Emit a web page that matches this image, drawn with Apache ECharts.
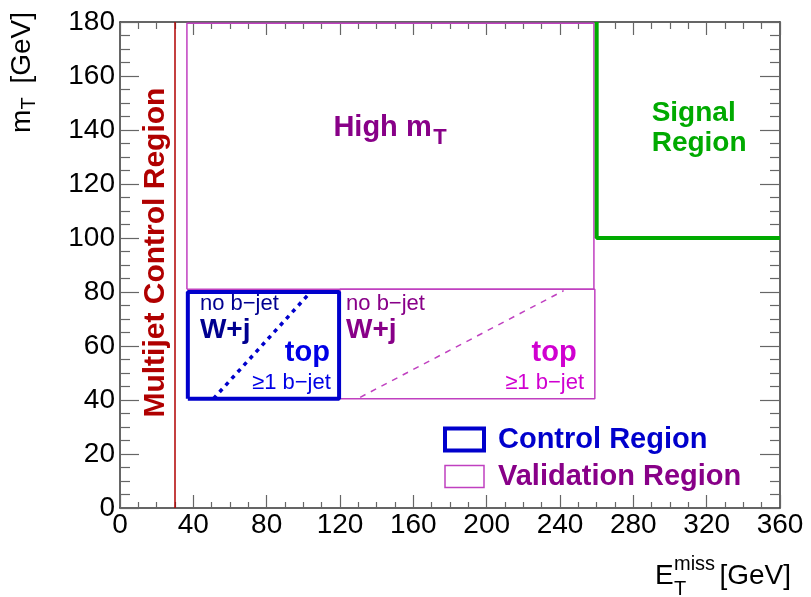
<!DOCTYPE html>
<html><head><meta charset="utf-8">
<script src="https://cdn.jsdelivr.net/npm/echarts@6/dist/echarts.min.js"></script>
<style>html,body{margin:0;padding:0;background:#fff}#c{width:811px;height:597px}</style>
</head><body><div id="c"></div>
<script>
// ---- data (GeV) ----
const xTickLabels = [0, 40, 80, 120, 160, 200, 240, 280, 320, 360];
const yTickLabels = [0, 20, 40, 60, 80, 100, 120, 140, 160, 180];
const multijetCut = [[30, 0], [30, 180]];
const signalBoundary = [[260, 180], [260, 100], [360, 100]];
const highMtVR = [[36.5, 81], [36.5, 179.5], [258.5, 179.5], [258.5, 81], [36.5, 81]];
const lowMtVR = [[120, 40.5], [120, 81], [259, 81], [259, 40.5], [120, 40.5]];
const controlCR = [[37, 40.5], [37, 80], [119.5, 80], [119.5, 40.5], [37, 40.5]];
const crDiagonal = [[51, 40.5], [104, 80]];
const vrDiagonal = [[131, 41], [242, 80.5]];

const FONT = "'Liberation Sans', Arial, Helvetica, sans-serif";
const C_RED = '#b00000', C_BLUE = '#0000cc', C_NAVY = '#000090', C_BRIGHTBLUE = '#0000e6',
      C_PURPLE = '#880088', C_MAGENTA = '#d000d0', C_VRLINE = '#c040c0', C_GREEN = '#00aa00';

function ann(x, y, text, color, size, bold, align, extra) {
  return {
    value: [x, y],
    label: Object.assign({
      show: true, formatter: text, position: [0, 0], align: align, verticalAlign: 'middle',
      color: color, fontSize: size, fontWeight: bold ? 'bold' : 'normal', fontFamily: FONT, opacity: 1
    }, extra || {})
  };
}

const annotations = [
  ann(19.4, 94.6, 'Multijet Control Region', C_RED, 30, true, 'center', {rotate: 90}),
  ann(116.4, 140.8, 'High m', C_PURPLE, 29, true, 'left'),
  ann(170.9, 137.0, 'T', C_PURPLE, 22, true, 'left'),
  ann(290, 140.6, 'Signal\nRegion', C_GREEN, 28, true, 'left', {lineHeight: 30}),
  ann(43.6, 75.6, 'no b\u2212jet', C_NAVY, 22, false, 'left'),
  ann(43.6, 65.8, 'W+j', C_NAVY, 28, true, 'left'),
  ann(114.5, 57.4, 'top', C_BRIGHTBLUE, 29, true, 'right'),
  ann(115, 46.3, '\u22651 b\u2212jet', C_BRIGHTBLUE, 22, false, 'right'),
  ann(123.3, 75.6, 'no b\u2212jet', C_PURPLE, 22, false, 'left'),
  ann(123.3, 65.8, 'W+j', C_PURPLE, 28, true, 'left'),
  ann(249.1, 57.4, 'top', C_MAGENTA, 29, true, 'right'),
  ann(253.1, 46.3, '\u22651 b\u2212jet', C_MAGENTA, 22, false, 'right')
];

function lineSeries(name, data, color, width, type, z) {
  return {
    name: name, type: 'line', data: data, symbol: 'none', silent: true, clip: false,
    lineStyle: {color: color, width: width, type: type || 'solid', opacity: 1}, z: z || 2, animation: false
  };
}

const axisLineStyle = {color: '#333', width: 1.5};
const tickStyle = {color: '#666', width: 1.2};

const chart = echarts.init(document.getElementById('c'));
chart.setOption({
  backgroundColor: '#fff',
  animation: false,
  grid: {left: 120, top: 22, width: 660, height: 486, containLabel: false},
  xAxis: [{
    type: 'value', min: xTickLabels[0], max: xTickLabels[xTickLabels.length - 1],
    interval: xTickLabels[1] - xTickLabels[0], position: 'bottom',
    axisLine: {show: true, onZero: false, lineStyle: axisLineStyle},
    axisTick: {show: true, inside: true, length: 13, lineStyle: tickStyle},
    minorTick: {show: true, splitNumber: 4, length: 6, lineStyle: tickStyle},
    axisLabel: {fontSize: 28, color: '#000', fontFamily: FONT, margin: 3},
    splitLine: {show: false}
  }, {
    type: 'value', min: xTickLabels[0], max: xTickLabels[xTickLabels.length - 1],
    interval: xTickLabels[1] - xTickLabels[0], position: 'top',
    axisLine: {show: true, onZero: false, lineStyle: axisLineStyle},
    axisTick: {show: true, inside: true, length: 13, lineStyle: tickStyle},
    minorTick: {show: true, splitNumber: 4, length: 7, lineStyle: tickStyle},
    axisLabel: {show: false}, splitLine: {show: false}
  }],
  yAxis: [{
    type: 'value', min: yTickLabels[0], max: yTickLabels[yTickLabels.length - 1],
    interval: yTickLabels[1] - yTickLabels[0], position: 'left',
    axisLine: {show: true, onZero: false, lineStyle: axisLineStyle},
    axisTick: {show: true, inside: true, length: 19, lineStyle: tickStyle},
    minorTick: {show: true, splitNumber: 4, length: 10, lineStyle: tickStyle},
    axisLabel: {fontSize: 28, color: '#000', fontFamily: FONT, margin: 5},
    splitLine: {show: false}
  }, {
    type: 'value', min: yTickLabels[0], max: yTickLabels[yTickLabels.length - 1],
    interval: yTickLabels[1] - yTickLabels[0], position: 'right',
    axisLine: {show: true, onZero: false, lineStyle: axisLineStyle},
    axisTick: {show: true, inside: true, length: 20, lineStyle: tickStyle},
    minorTick: {show: true, splitNumber: 4, length: 10, lineStyle: tickStyle},
    axisLabel: {show: false}, splitLine: {show: false}
  }],
  legend: {
    orient: 'vertical', left: 443, top: 425, padding: 0, itemWidth: 39, itemHeight: 22, itemGap: 8,
    selectedMode: false,
    textStyle: {fontSize: 29, fontWeight: 'bold', fontFamily: FONT, padding: [0, 0, 0, 9]},
    data: [
      {name: 'Control Region', icon: 'rect',
       itemStyle: {color: 'rgba(0,0,0,0)', borderColor: C_BLUE, borderWidth: 4},
       textStyle: {color: C_BLUE}},
      {name: 'Validation Region', icon: 'rect',
       itemStyle: {color: 'rgba(0,0,0,0)', borderColor: C_VRLINE, borderWidth: 1.5},
       textStyle: {color: C_PURPLE}}
    ]
  },
  graphic: [
    {type: 'group', x: 32, y: 133, rotation: Math.PI / 2, children: [
      {type: 'text', x: 0, y: -10, style: {text: 'm', fontSize: 28, fontFamily: FONT, fill: '#000', align: 'left', verticalAlign: 'middle'}},
      {type: 'text', x: 23.5, y: -3, style: {text: 'T', fontSize: 20, fontFamily: FONT, fill: '#000', align: 'left', verticalAlign: 'middle'}},
      {type: 'text', x: 121, y: -10, style: {text: '[GeV]', fontSize: 28, fontFamily: FONT, fill: '#000', align: 'right', verticalAlign: 'middle'}}
    ]},
    {type: 'text', x: 655, y: 576, style: {text: 'E', fontSize: 28, fontFamily: FONT, fill: '#000', align: 'left', verticalAlign: 'middle'}},
    {type: 'text', x: 674, y: 564, style: {text: 'miss', fontSize: 20, fontFamily: FONT, fill: '#000', align: 'left', verticalAlign: 'middle'}},
    {type: 'text', x: 674, y: 589, style: {text: 'T', fontSize: 20, fontFamily: FONT, fill: '#000', align: 'left', verticalAlign: 'middle'}},
    {type: 'text', x: 791, y: 576, style: {text: '[GeV]', fontSize: 28, fontFamily: FONT, fill: '#000', align: 'right', verticalAlign: 'middle'}}
  ],
  series: [
    lineSeries('Multijet', multijetCut, C_RED, 1.5, 'solid', 2),
    lineSeries('Validation Region', highMtVR, C_VRLINE, 1.5, 'solid', 3),
    lineSeries('Validation Region', lowMtVR, C_VRLINE, 1.5, 'solid', 3),
    lineSeries('VR diagonal', vrDiagonal, C_VRLINE, 1.5, [6, 6], 3),
    lineSeries('Control Region', controlCR, C_BLUE, 4, 'solid', 4),
    lineSeries('CR diagonal', crDiagonal, C_BLUE, 3.5, [4, 5], 4),
    lineSeries('Signal Region', signalBoundary, C_GREEN, 4, 'solid', 4),
    {
      name: 'annotations', type: 'scatter', data: annotations, symbolSize: 0, silent: true, z: 5,
      itemStyle: {opacity: 1}, emphasis: {disabled: true}, animation: false
    }
  ]
});
</script>
</body></html>
